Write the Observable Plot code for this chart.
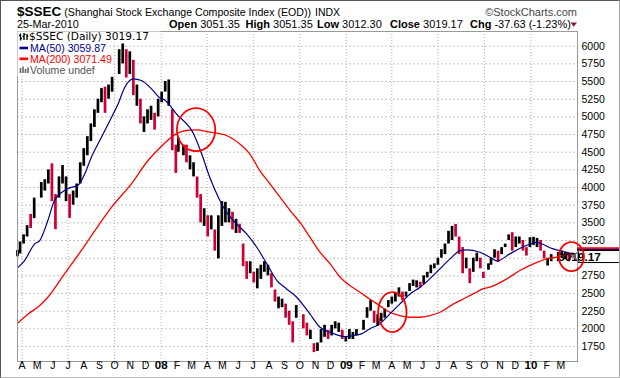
<!DOCTYPE html>
<html>
<head>
<meta charset="utf-8">
<script src="https://cdn.jsdelivr.net/npm/d3@7"></script>
<script src="https://cdn.jsdelivr.net/npm/@observablehq/plot@0.6"></script>
<style>
html,body{margin:0;padding:0;background:#fff;}
#wrap{position:relative;width:620px;height:378px;overflow:hidden;background:#fff;}
#border{position:absolute;left:0;top:0;width:620px;height:378px;box-sizing:border-box;border-top:1px solid #555;border-left:1px solid #555;border-right:1px solid #aaa;border-bottom:1px solid #bbb;pointer-events:none;}
#wrap svg{position:absolute;left:0;top:0;}
</style>
</head>
<body>
<div id="wrap"><div id="border"></div></div>
<script>
// ---------- data ----------
const symbolName = "$SSEC";
const fullName = "(Shanghai Stock Exchange Composite Index (EOD))";
const exchange = "INDX";
const quoteDate = "25-Mar-2010";
const quoteLabels = ["Open", "High", "Low", "Close", "Chg"];
const quoteValues = ["3051.35", "3051.35", "3012.30", "3019.17", "-37.63 (-1.23%)"];
const lastDate = "2010-03-25";
const lastLow = 3012.30;
const lastHigh = 3051.35;
const lastClose = 3019.17;
const ma50Last = 3059.87;
const ma200Last = 3071.49;

// weekly price bars (mid-week date, low, high, u = up/black, d = down/red)
const weekDates = [
"2007-03-23","2007-03-28","2007-04-04","2007-04-11","2007-04-18","2007-04-25","2007-05-09","2007-05-16","2007-05-23","2007-05-30",
"2007-06-06","2007-06-13","2007-06-20","2007-06-27","2007-07-04","2007-07-11","2007-07-18","2007-07-25","2007-08-01","2007-08-08",
"2007-08-15","2007-08-22","2007-08-29","2007-09-05","2007-09-12","2007-09-19","2007-09-26","2007-10-10","2007-10-17","2007-10-24",
"2007-10-31","2007-11-07","2007-11-14","2007-11-21","2007-11-28","2007-12-05","2007-12-12","2007-12-19","2007-12-26","2008-01-02",
"2008-01-09","2008-01-16","2008-01-23","2008-01-30","2008-02-04","2008-02-14","2008-02-20","2008-02-27","2008-03-05","2008-03-12",
"2008-03-19","2008-03-26","2008-04-02","2008-04-09","2008-04-16","2008-04-23","2008-04-30","2008-05-07","2008-05-14","2008-05-21",
"2008-05-28","2008-06-04","2008-06-11","2008-06-18","2008-06-25","2008-07-02","2008-07-09","2008-07-16","2008-07-23","2008-07-30",
"2008-08-06","2008-08-13","2008-08-20","2008-08-27","2008-09-03","2008-09-10","2008-09-17","2008-09-24","2008-10-08","2008-10-15",
"2008-10-22","2008-10-29","2008-11-05","2008-11-12","2008-11-19","2008-11-26","2008-12-03","2008-12-10","2008-12-17","2008-12-24",
"2008-12-31","2009-01-07","2009-01-14","2009-01-21","2009-02-04","2009-02-11","2009-02-18","2009-02-25","2009-03-04","2009-03-11",
"2009-03-18","2009-03-25","2009-04-01","2009-04-08","2009-04-15","2009-04-22","2009-04-29","2009-05-06","2009-05-13","2009-05-20",
"2009-05-27","2009-06-03","2009-06-10","2009-06-17","2009-06-24","2009-07-01","2009-07-08","2009-07-15","2009-07-22","2009-07-29",
"2009-08-05","2009-08-12","2009-08-19","2009-08-26","2009-09-02","2009-09-09","2009-09-16","2009-09-23","2009-09-29","2009-10-09",
"2009-10-14","2009-10-21","2009-10-28","2009-11-04","2009-11-11","2009-11-18","2009-11-25","2009-12-02","2009-12-09","2009-12-16",
"2009-12-23","2009-12-30","2010-01-06","2010-01-13","2010-01-20","2010-01-27","2010-02-03","2010-02-10","2010-02-24","2010-03-03",
"2010-03-10","2010-03-17","2010-03-24"];
const weekLows = [
3020,3060,3200,3300,3420,3560,3850,3950,4050,3800,
3404,3850,4050,3800,3563,3750,3850,4050,4300,4450,
4650,4850,5050,5200,5050,5250,5350,5600,5750,5550,
5600,5300,5150,4900,4778,4900,4950,4812,5000,5200,
5350,5150,4520,4200,4500,4450,4350,4250,4150,3850,
3500,3450,3300,3400,3100,2990,3450,3500,3500,3400,
3350,3350,2880,2700,2780,2650,2566,2700,2800,2750,
2580,2380,2284,2300,2150,2050,1802,2150,2000,1900,
1850,1664,1680,1800,1880,1850,1900,2000,1950,1850,
1814,1850,1850,1900,1980,2150,2250,2080,2037,2100,
2150,2300,2350,2380,2450,2400,2450,2530,2600,2580,
2580,2630,2720,2780,2850,2900,3000,3050,3200,3250,
3300,3050,2780,2850,2639,2800,2950,2850,2712,2830,
2900,3000,2940,3050,3150,3250,3100,3150,3200,3100,
3030,3150,3180,3150,3100,2990,2890,2950,2950,3000,
2980,2950,3000];
const weekHighs = [
3110,3230,3330,3460,3620,3850,4070,4110,4250,4336,
3900,4150,4311,4150,3900,3950,4050,4350,4550,4720,
4900,5100,5250,5400,5420,5450,5560,5950,6124,5950,
5920,5800,5450,5250,5000,5100,5150,5050,5250,5350,
5500,5522,5100,4600,4700,4600,4600,4450,4350,4150,
3900,3700,3600,3600,3400,3600,3800,3790,3700,3650,
3550,3480,3200,2950,2950,2800,2850,2900,2950,2900,
2780,2550,2450,2420,2350,2250,2100,2330,2200,2080,
1980,1790,1800,1990,2050,1980,2050,2100,2080,1980,
1880,1990,1950,1990,2120,2300,2402,2250,2200,2220,
2280,2400,2450,2500,2580,2520,2520,2640,2690,2680,
2660,2750,2800,2900,2920,3000,3120,3200,3380,3450,
3478,3300,3150,3000,2850,3000,3070,3000,2800,2920,
3000,3120,3100,3150,3200,3330,3361,3300,3300,3250,
3150,3290,3295,3280,3250,3100,3000,3050,3080,3100,
3080,3060,3070];
const weekDirs = [
"u","u","u","u","d","u","u","u","u","d",
"d","u","u","u","d","u","u","u","u","u",
"u","u","u","u","d","u","u","u","u","d",
"u","d","u","d","u","u","u","d","u","u",
"u","u","d","d","u","u","d","u","u","d",
"d","u","d","u","d","u","u","u","u","d",
"u","d","d","d","u","d","u","u","u","u",
"d","d","u","u","d","d","d","u","d","d",
"u","d","u","u","u","d","u","u","u","d",
"u","u","u","u","u","u","u","d","u","u",
"u","u","u","u","u","d","u","u","u","u",
"d","u","u","u","u","u","u","u","u","u",
"d","d","d","u","d","u","u","d","d","u",
"u","u","d","u","u","u","d","u","u","d",
"d","u","u","u","d","d","u","u","u","u",
"u","d","d"];

const ma50Dates = [
"2007-03-23","2007-04-06","2007-04-26","2007-05-06","2007-05-22","2007-06-04","2007-06-24","2007-07-04","2007-07-20","2007-08-03",
"2007-08-16","2007-09-05","2007-09-25","2007-10-08","2007-10-21","2007-11-07","2007-11-23","2007-12-13","2007-12-29","2008-01-08",
"2008-01-31","2008-03-05","2008-03-21","2008-04-06","2008-04-23","2008-05-09","2008-05-29","2008-06-18","2008-07-08","2008-07-28",
"2008-08-17","2008-09-05","2008-09-25","2008-10-11","2008-10-21","2008-11-10","2008-11-30","2008-12-30","2009-01-14","2009-01-31",
"2009-02-16","2009-03-08","2009-03-28","2009-04-17","2009-05-07","2009-05-27","2009-06-15","2009-07-05","2009-07-25","2009-08-14",
"2009-08-27","2009-09-22","2009-10-12","2009-10-26","2009-11-20","2009-12-23","2010-01-12","2010-01-19","2010-02-14","2010-03-13",
"2010-03-25"];
const ma50Values = [
2863,2966,3203,3250,3533,3816,3957,3995,4028,4194,
4430,4712,4995,5185,5420,5538,5514,5396,5270,5240,
5043,4760,4477,4146,3863,3651,3486,3344,3155,2919,
2683,2565,2447,2306,2211,2023,1952,1891,1905,1929,
1999,2070,2211,2353,2494,2589,2707,2849,2990,3108,
3118,3084,3013,2960,3061,3179,3225,3211,3132,3084,
3060];

const ma200Dates = [
"2007-03-23","2007-04-13","2007-05-06","2007-05-22","2007-06-24","2007-07-27","2007-08-23","2007-09-25","2007-11-03","2007-12-06",
"2007-12-29","2008-01-31","2008-02-19","2008-03-10","2008-04-06","2008-05-09","2008-06-04","2008-06-24","2008-07-14","2008-08-03",
"2008-08-23","2008-09-12","2008-10-01","2008-10-21","2008-11-10","2008-11-30","2008-12-20","2009-01-08","2009-01-28","2009-02-16",
"2009-03-08","2009-03-28","2009-04-17","2009-05-07","2009-05-27","2009-06-15","2009-07-05","2009-08-01","2009-08-27","2009-09-15",
"2009-09-28","2009-10-12","2009-11-14","2009-12-10","2010-01-06","2010-02-01","2010-02-27","2010-03-25"];
const ma200Values = [
2079,2211,2329,2447,2777,3108,3391,3722,4052,4382,
4560,4760,4807,4816,4783,4736,4618,4477,4240,4052,
3863,3674,3509,3297,3085,2919,2730,2612,2518,2423,
2329,2235,2188,2164,2164,2188,2235,2353,2447,2518,
2565,2589,2707,2825,2919,2990,3023,3071];

// crossover circles (centre date, centre value)
const circleDates = ["2008-03-10", "2009-04-02", "2010-03-22"];
const circleValues = [4818, 2236, 3021];

const yTicks = [1750,2000,2250,2500,2750,3000,3250,3500,3750,4000,4250,4500,4750,5000,5250,5500,5750,6000];
const monthDates = [
"2007-04-01","2007-05-01","2007-06-01","2007-07-01","2007-08-01","2007-09-01","2007-10-01","2007-11-01","2007-12-01",
"2008-01-01","2008-02-01","2008-03-01","2008-04-01","2008-05-01","2008-06-01","2008-07-01","2008-08-01","2008-09-01","2008-10-01","2008-11-01","2008-12-01",
"2009-01-01","2009-02-01","2009-03-01","2009-04-01","2009-05-01","2009-06-01","2009-07-01","2009-08-01","2009-09-01","2009-10-01","2009-11-01","2009-12-01",
"2010-01-01","2010-02-01","2010-03-01"];
const monthLabels = [
"A","M","J","J","A","S","O","N","D",
"08","F","M","A","M","J","J","A","S","O","N","D",
"09","F","M","A","M","J","J","A","S","O","N","D",
"10","F","M"];
const gridDates = ["2007-04-01","2007-07-01","2007-10-01","2008-01-01","2008-04-01","2008-07-01","2008-10-01",
"2009-01-01","2009-04-01","2009-07-01","2009-10-01","2010-01-01"];

// ---------- build ----------
const P = d3.utcParse("%Y-%m-%d");
const bars = weekDates.map((d, i) => ({date: P(d), low: weekLows[i], high: weekHighs[i], dir: weekDirs[i]}));
const ma50 = ma50Dates.map((d, i) => ({date: P(d), value: ma50Values[i]}));
const ma200 = ma200Dates.map((d, i) => ({date: P(d), value: ma200Values[i]}));
const circles = circleDates.map((d, i) => ({date: P(d), value: circleValues[i]}));
const months = monthDates.map((d, i) => ({date: P(d), label: monthLabels[i], year: /^\d/.test(monthLabels[i])}));
const lastBar = [{date: P(lastDate), low: lastLow, high: lastHigh}];
// the last-value box on the right axis hides the tick label it covers
const yLabelTicks = yTicks.filter(v => Math.abs(v - lastClose) > 60);

function ellipse(rx, ry) {
  const k = 0.5523;
  return {draw(ctx) {
    ctx.moveTo(rx, 0);
    ctx.bezierCurveTo(rx, ry * k, rx * k, ry, 0, ry);
    ctx.bezierCurveTo(-rx * k, ry, -rx, ry * k, -rx, 0);
    ctx.bezierCurveTo(-rx, -ry * k, -rx * k, -ry, 0, -ry);
    ctx.bezierCurveTo(rx * k, -ry, rx, -ry * k, rx, 0);
    ctx.closePath();
  }};
}

const FONT = "'Liberation Sans', Arial, Helvetica, sans-serif";
const RED = "#ff0000";
const NAVY = "#000088";

const chart = Plot.plot({
  width: 620,
  height: 378,
  marginTop: 31,
  marginRight: 43,
  marginBottom: 17,
  marginLeft: 17,
  style: {fontFamily: FONT, fontSize: "10.5px", background: "transparent", color: "#000"},
  x: {type: "utc", domain: [P("2007-03-23"), P("2010-04-03")]},
  y: {domain: [1538, 6208]},
  color: {domain: ["u", "d"], range: ["#000000", "#cc0033"]},
  marks: [
    Plot.ruleY(yTicks, {stroke: "#c4c4c4", strokeDasharray: "2,2"}),
    Plot.ruleX(gridDates.map(P), {stroke: "#b0b0b0", strokeDasharray: "1,2"}),
    Plot.ruleX(bars, {x: "date", y1: "low", y2: "high", stroke: "dir", strokeWidth: 2.7}),
    Plot.ruleX(lastBar, {x: "date", y1: "low", y2: "high", stroke: "#ffcc00", strokeWidth: 2}),
    Plot.line(ma200, {x: "date", y: "value", stroke: RED, strokeWidth: 1.3, curve: "monotone-x"}),
    Plot.line(ma50, {x: "date", y: "value", stroke: NAVY, strokeWidth: 1.2, curve: "monotone-x"}),
    Plot.frame({stroke: "#9a9a9a"}),
    Plot.axisY(yLabelTicks, {anchor: "right", tickSize: 0, tickPadding: 4, label: null, fontSize: 10.5, tickFormat: d => String(d)}),
    Plot.axisX(monthDates.map(P), {tickSize: 3, tickFormat: () => "", label: null, stroke: "#888"}),
    Plot.text(months.filter(d => !d.year), {x: "date", text: "label", frameAnchor: "bottom", dy: 7, fontSize: 10.5}),
    Plot.text(months.filter(d => d.year), {x: "date", text: "label", frameAnchor: "bottom", dy: 7, fontSize: 11.5, fontWeight: "bold"}),
    Plot.dot([circles[0]], {x: "date", y: "value", symbol: ellipse(19.2, 21.5), r: 20, stroke: RED, fill: "none", strokeWidth: 1.8, className: "circ"}),
    Plot.dot([circles[1]], {x: "date", y: "value", symbol: ellipse(14.2, 20), r: 17, stroke: RED, fill: "none", strokeWidth: 1.8, className: "circ"}),
    Plot.dot([circles[2]], {x: "date", y: "value", symbol: ellipse(12.5, 14.5), r: 14, stroke: RED, fill: "none", strokeWidth: 1.8, className: "circ"})
  ]
});

const wrap = document.getElementById("wrap");
wrap.insertBefore(chart, document.getElementById("border"));

// ---------- right-edge last-value markers (positioned through Plot's y scale) ----------
const ys = chart.scale("y");
const svg = d3.select(chart);
const xR = 620 - 43;
const marker = svg.append("g");
marker.append("line").attr("x1", xR).attr("x2", 620).attr("y1", ys.apply(ma200Last) - 4.3).attr("y2", ys.apply(ma200Last) - 4.3)
  .attr("stroke", RED).attr("stroke-width", 2.2);
marker.append("line").attr("x1", xR).attr("x2", 620).attr("y1", ys.apply(ma50Last) - 3.6).attr("y2", ys.apply(ma50Last) - 3.6)
  .attr("stroke", NAVY).attr("stroke-width", 1.6);
const yc = ys.apply(lastClose);
marker.append("rect").attr("x", xR + 1.5).attr("y", yc - 5.8).attr("width", 45).attr("height", 12)
  .attr("fill", "#fff").attr("stroke", "#000").attr("stroke-width", 1);
marker.append("text").attr("x", xR + 2.5).attr("y", yc + 4.2).attr("font-family", FONT)
  .attr("font-size", 11.8).attr("font-weight", "bold").text(lastClose.toFixed(2));
marker.append("path").attr("d", `M${xR + 3},${yc - 6} L${xR - 4},${yc} L${xR + 3},${yc + 6}`)
  .attr("fill", "none").attr("stroke", "#777").attr("stroke-width", 1.3);
svg.selectAll(".circ").raise();

// ---------- header & legend overlay ----------
const ov = d3.select(wrap).append("svg").attr("width", 620).attr("height", 378)
  .style("pointer-events", "none").attr("font-family", FONT);
const t1 = ov.append("text").attr("x", 17).attr("y", 16);
t1.append("tspan").attr("font-size", 13.5).attr("font-weight", "bold").text(symbolName);
t1.append("tspan").attr("font-size", 10.6).attr("dx", 3).text(fullName);
ov.append("text").attr("x", 315).attr("y", 15.5).attr("font-size", 10.5).text(exchange);
ov.append("text").attr("x", 577).attr("y", 16).attr("text-anchor", "end").attr("font-size", 11)
  .attr("fill", "#444").text("\u00A9StockCharts.com");
ov.append("text").attr("x", 17).attr("y", 28).attr("font-size", 10.8).text(quoteDate);
const qx = [169, 245.5, 317, 390, 470];
quoteLabels.forEach((lab, i) => {
  const t = ov.append("text").attr("x", qx[i]).attr("y", 28).attr("font-size", 11);
  t.append("tspan").attr("font-weight", "bold").text(lab);
  t.append("tspan").text(" " + quoteValues[i]);
});
ov.append("path").attr("d", "M570.5,22.5 L577,22.5 L573.75,26.8 Z").attr("fill", "#8b1a3a");

// legend
const lg = ov.append("g");
lg.append("rect").attr("x", 17.5).attr("y", 31.5).attr("width", 143).attr("height", 12).attr("fill", "#fff");
lg.append("rect").attr("x", 17.5).attr("y", 43.5).attr("width", 88).attr("height", 11).attr("fill", "#fff");
lg.append("rect").attr("x", 17.5).attr("y", 54.5).attr("width", 92).attr("height", 11).attr("fill", "#fff");
lg.append("rect").attr("x", 17.5).attr("y", 65.5).attr("width", 78).attr("height", 11).attr("fill", "#fff");
// ohlc icon
lg.append("path").attr("d", "M20.5,33.5 V40.5 M19,35.5 H20.5 M20.5,38.5 H22 M24,33 V40 M22.5,36.5 H24 M24,34.5 H25.5 M27,34 V40 M27,36 H28.3")
  .attr("stroke", "#000").attr("stroke-width", 1.3).attr("fill", "none");
lg.append("text").attr("x", 29).attr("y", 40.3).attr("font-family", "'DejaVu Sans', Verdana, sans-serif")
  .attr("font-size", 10.6).text(symbolName + " (Daily) " + lastClose.toFixed(2));
lg.append("line").attr("x1", 19.5).attr("x2", 28).attr("y1", 48).attr("y2", 48).attr("stroke", NAVY).attr("stroke-width", 2.6);
lg.append("text").attr("x", 30).attr("y", 52).attr("font-size", 10.6).attr("fill", NAVY).text("MA(50) " + ma50Last.toFixed(2));
lg.append("line").attr("x1", 19.5).attr("x2", 28).attr("y1", 58.8).attr("y2", 58.8).attr("stroke", RED).attr("stroke-width", 2.6);
lg.append("text").attr("x", 30).attr("y", 62.8).attr("font-size", 10.6).attr("fill", RED).text("MA(200) " + ma200Last.toFixed(2));
lg.append("path").attr("d", "M20.5,73 V68 M23,73 V66.5 M25.5,73 V69 M28,73 V67.5")
  .attr("stroke", "#666").attr("stroke-width", 1.6);
lg.append("text").attr("x", 30).attr("y", 73.5).attr("font-size", 10.6).attr("fill", "#555").text("Volume undef");
</script>
</body>
</html>
